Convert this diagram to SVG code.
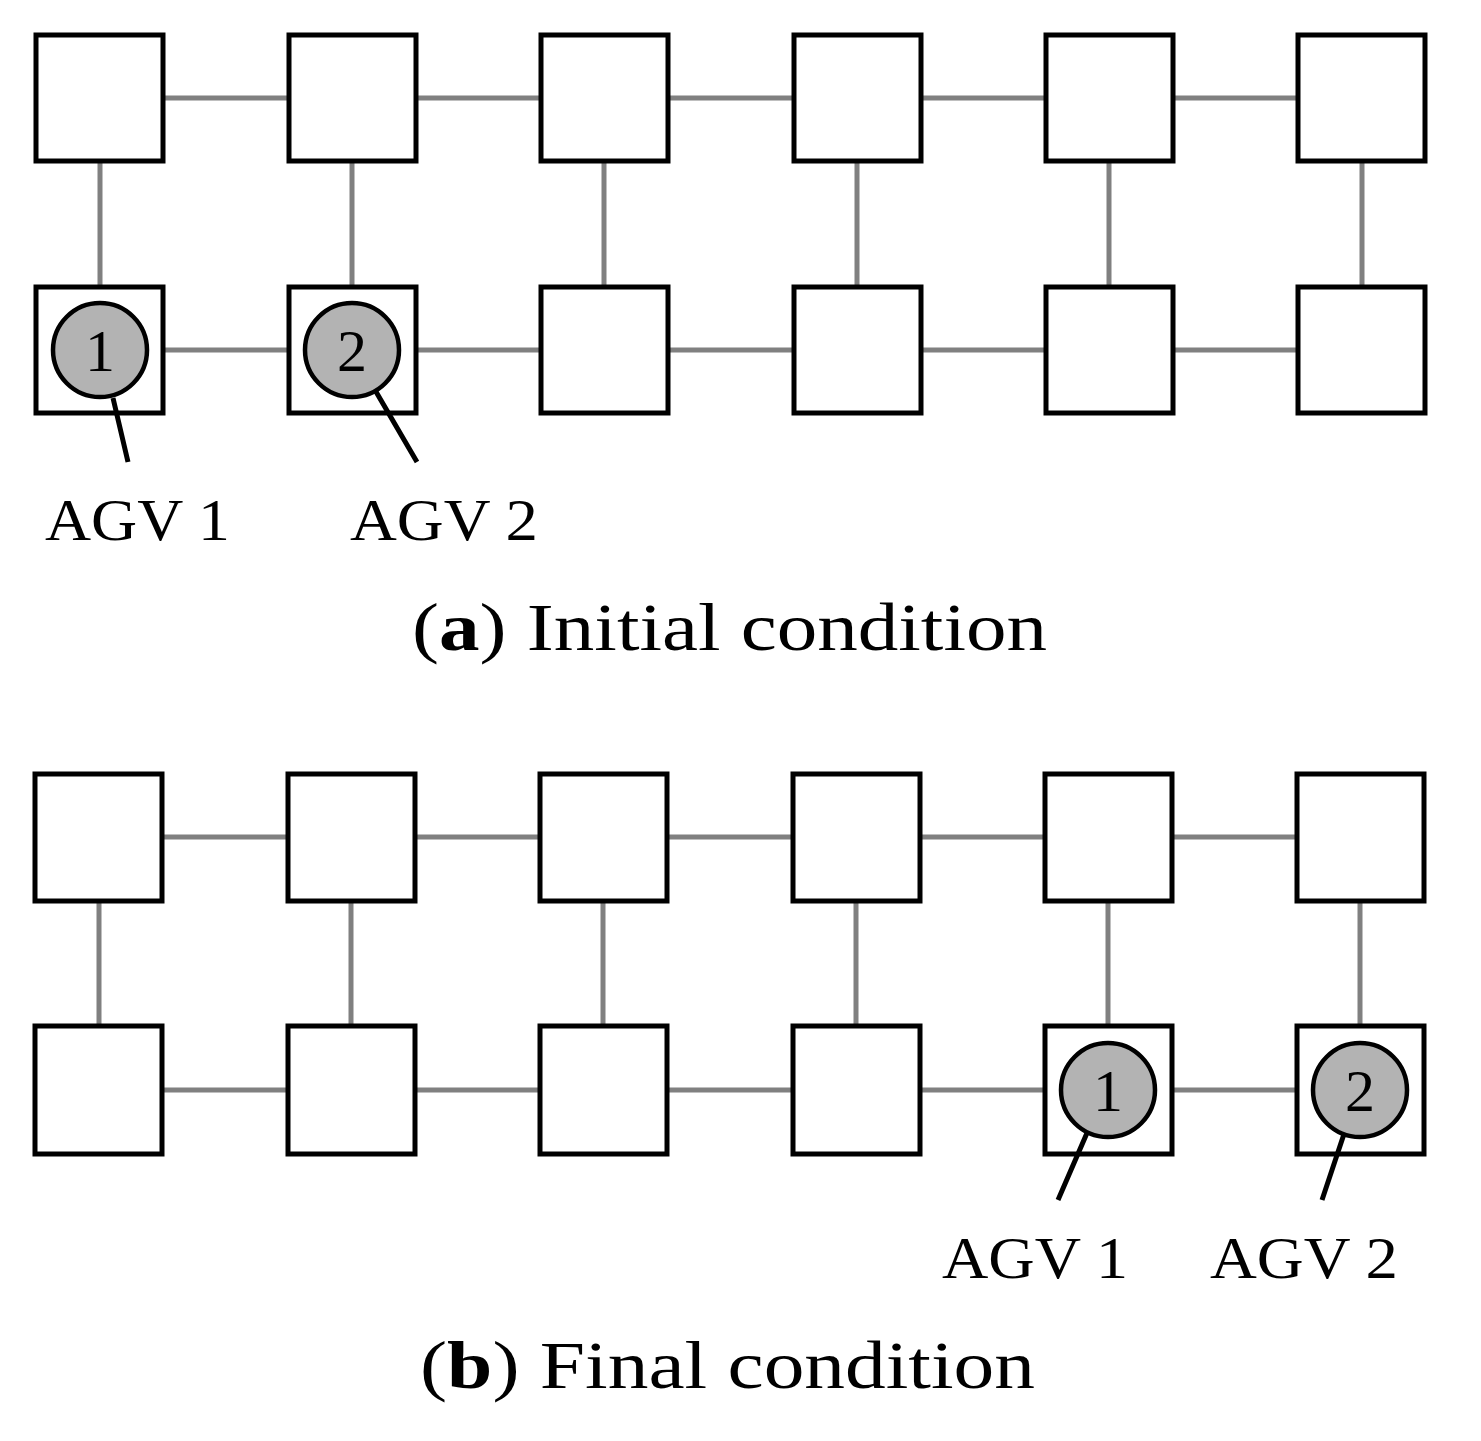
<svg xmlns="http://www.w3.org/2000/svg" width="1481" height="1441" viewBox="0 0 1481 1441">
<style>
.box{fill:#fff;stroke:#000;stroke-width:5}
.con{stroke:#808080;stroke-width:5;fill:none}
.agv{fill:#b3b3b3;stroke:#000;stroke-width:4.5}
.lead{stroke:#000;stroke-width:5}
.t{font-family:"Liberation Serif",serif;fill:#000}
</style>
<rect width="1481" height="1441" fill="#fff"/>
<g id="connectors">
<path class="con" d="M163 98H289M416 98H541M668 98H794M921 98H1046M1173 98H1298M163 350H289M416 350H541M668 350H794M921 350H1046M1173 350H1298M100 161V287M352 161V287M604 161V287M857 161V287M1109 161V287M1362 161V287"/>
<path class="con" d="M162 837H288M415 837H540M667 837H793M920 837H1045M1172 837H1297M162 1090H288M415 1090H540M667 1090H793M920 1090H1045M1172 1090H1297M99 901V1026M351 901V1026M603 901V1026M856 901V1026M1108 901V1026M1360 901V1026"/>
</g>
<g id="top-nodes">
<rect id="a1" class="box" x="36" y="35" width="127" height="126"/>
<rect id="a2" class="box" x="289" y="35" width="127" height="126"/>
<rect id="a3" class="box" x="541" y="35" width="127" height="126"/>
<rect id="a4" class="box" x="794" y="35" width="127" height="126"/>
<rect id="a5" class="box" x="1046" y="35" width="127" height="126"/>
<rect id="a6" class="box" x="1298" y="35" width="127" height="126"/>
<rect id="a7" class="box" x="36" y="287" width="127" height="126"/>
<rect id="a8" class="box" x="289" y="287" width="127" height="126"/>
<rect id="a9" class="box" x="541" y="287" width="127" height="126"/>
<rect id="a10" class="box" x="794" y="287" width="127" height="126"/>
<rect id="a11" class="box" x="1046" y="287" width="127" height="126"/>
<rect id="a12" class="box" x="1298" y="287" width="127" height="126"/>
</g>
<g id="bottom-nodes">
<rect id="b1" class="box" x="35" y="774" width="127" height="127"/>
<rect id="b2" class="box" x="288" y="774" width="127" height="127"/>
<rect id="b3" class="box" x="540" y="774" width="127" height="127"/>
<rect id="b4" class="box" x="793" y="774" width="127" height="127"/>
<rect id="b5" class="box" x="1045" y="774" width="127" height="127"/>
<rect id="b6" class="box" x="1297" y="774" width="127" height="127"/>
<rect id="b7" class="box" x="35" y="1026" width="127" height="128"/>
<rect id="b8" class="box" x="288" y="1026" width="127" height="128"/>
<rect id="b9" class="box" x="540" y="1026" width="127" height="128"/>
<rect id="b10" class="box" x="793" y="1026" width="127" height="128"/>
<rect id="b11" class="box" x="1045" y="1026" width="127" height="128"/>
<rect id="b12" class="box" x="1297" y="1026" width="127" height="128"/>
</g>
<g id="leaders">
<path class="lead" d="M113 398L128 462M375 390L417 462M1087 1133L1058 1200M1344 1134L1322 1200"/>
</g>
<g id="agv1-a"><circle class="agv" cx="100" cy="350" r="47"/><text class="t" x="100" y="371" font-size="60" text-anchor="middle">1</text></g>
<g id="agv2-a"><circle class="agv" cx="352" cy="350" r="47"/><text class="t" x="352" y="371" font-size="60" text-anchor="middle">2</text></g>
<g id="agv1-b"><circle class="agv" cx="1108" cy="1090" r="47"/><text class="t" x="1108" y="1111" font-size="60" text-anchor="middle">1</text></g>
<g id="agv2-b"><circle class="agv" cx="1360" cy="1090" r="47"/><text class="t" x="1360" y="1111" font-size="60" text-anchor="middle">2</text></g>
<g id="labels">
<text class="t" x="45" y="540" font-size="60" textLength="185" lengthAdjust="spacingAndGlyphs">AGV 1</text>
<text class="t" x="350" y="540" font-size="60" textLength="188" lengthAdjust="spacingAndGlyphs">AGV 2</text>
<text class="t" x="942" y="1278" font-size="60" textLength="186" lengthAdjust="spacingAndGlyphs">AGV 1</text>
<text class="t" x="1210" y="1278" font-size="60" textLength="188" lengthAdjust="spacingAndGlyphs">AGV 2</text>
<text class="t" x="412" y="650" font-size="68" textLength="635" lengthAdjust="spacingAndGlyphs">(<tspan font-weight="bold">a</tspan>) Initial condition</text>
<text class="t" x="420" y="1388" font-size="68" textLength="615" lengthAdjust="spacingAndGlyphs">(<tspan font-weight="bold">b</tspan>) Final condition</text>
</g>
</svg>
